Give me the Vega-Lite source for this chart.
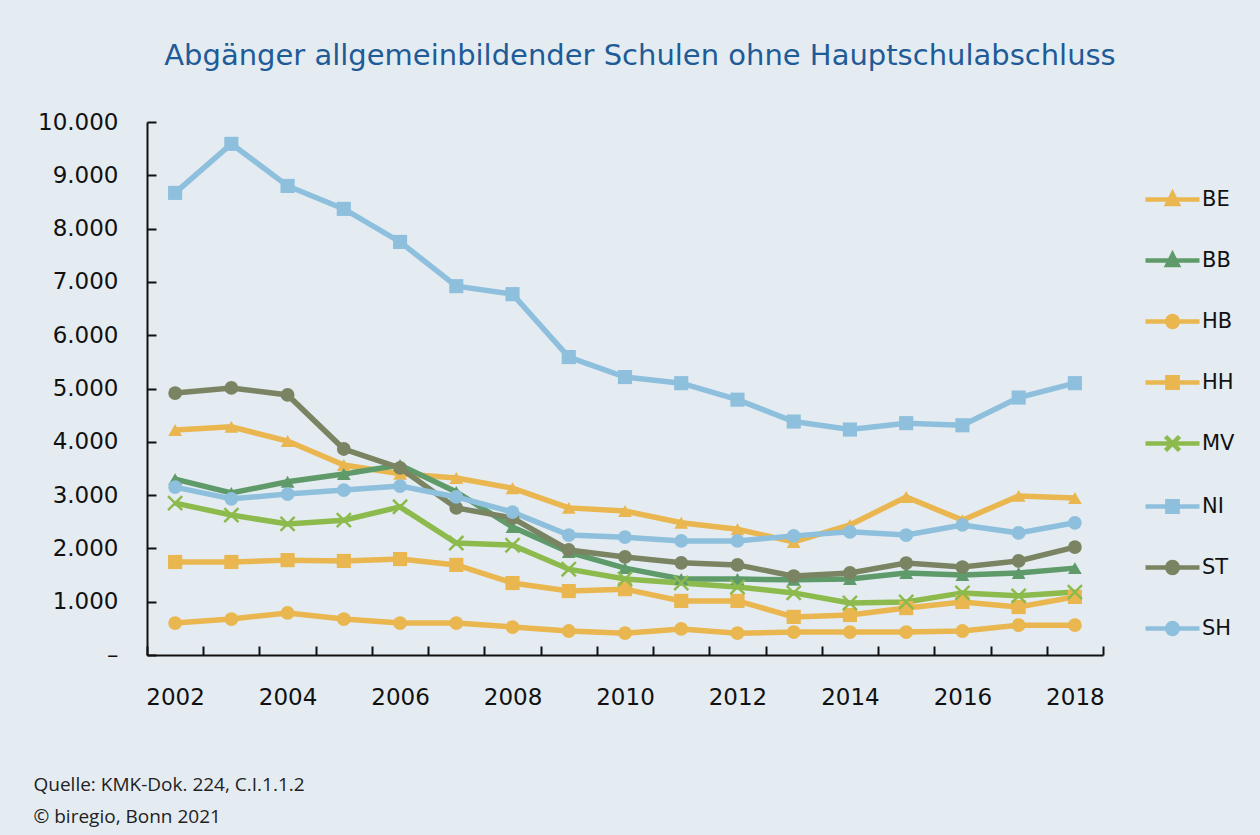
{
  "$schema": "https://vega.github.io/schema/vega-lite/v6.json",
  "autosize": {"type": "none"},
  "width": 956,
  "height": 533,
  "padding": {"left": 147, "top": 122, "right": 157, "bottom": 180},
  "background": "#e4ecf2",
  "config": {
    "view": {"stroke": null},
    "locale": {"number": {"decimal": ",", "thousands": ".", "grouping": [3], "currency": ["", " €"]}},
    "font": "DejaVu Sans"
  },
  "title": {
    "text": "Abgänger allgemeinbildender Schulen ohne Hauptschulabschluss",
    "font": "DejaVu Sans",
    "fontSize": 29,
    "fontWeight": "normal",
    "color": "#1f5b97",
    "anchor": "middle",
    "frame": "group",
    "dx": 15,
    "baseline": "alphabetic",
    "offset": 17
  },
  "data": {"values": [
    {"s":"BE","year":2002,"v":4220},{"s":"BE","year":2003,"v":4280},{"s":"BE","year":2004,"v":4015},{"s":"BE","year":2005,"v":3565},{"s":"BE","year":2006,"v":3400},{"s":"BE","year":2007,"v":3320},{"s":"BE","year":2008,"v":3130},{"s":"BE","year":2009,"v":2760},{"s":"BE","year":2010,"v":2700},{"s":"BE","year":2011,"v":2480},{"s":"BE","year":2012,"v":2360},{"s":"BE","year":2013,"v":2120},{"s":"BE","year":2014,"v":2440},{"s":"BE","year":2015,"v":2965},{"s":"BE","year":2016,"v":2530},{"s":"BE","year":2017,"v":2985},{"s":"BE","year":2018,"v":2945},
    {"s":"BB","year":2002,"v":3300},{"s":"BB","year":2003,"v":3040},{"s":"BB","year":2004,"v":3250},{"s":"BB","year":2005,"v":3395},{"s":"BB","year":2006,"v":3565},{"s":"BB","year":2007,"v":3060},{"s":"BB","year":2008,"v":2400},{"s":"BB","year":2009,"v":1930},{"s":"BB","year":2010,"v":1630},{"s":"BB","year":2011,"v":1425},{"s":"BB","year":2012,"v":1425},{"s":"BB","year":2013,"v":1410},{"s":"BB","year":2014,"v":1425},{"s":"BB","year":2015,"v":1540},{"s":"BB","year":2016,"v":1500},{"s":"BB","year":2017,"v":1540},{"s":"BB","year":2018,"v":1630},
    {"s":"HB","year":2002,"v":600},{"s":"HB","year":2003,"v":675},{"s":"HB","year":2004,"v":790},{"s":"HB","year":2005,"v":675},{"s":"HB","year":2006,"v":600},{"s":"HB","year":2007,"v":600},{"s":"HB","year":2008,"v":525},{"s":"HB","year":2009,"v":450},{"s":"HB","year":2010,"v":410},{"s":"HB","year":2011,"v":490},{"s":"HB","year":2012,"v":410},{"s":"HB","year":2013,"v":430},{"s":"HB","year":2014,"v":430},{"s":"HB","year":2015,"v":430},{"s":"HB","year":2016,"v":450},{"s":"HB","year":2017,"v":560},{"s":"HB","year":2018,"v":560},
    {"s":"HH","year":2002,"v":1745},{"s":"HH","year":2003,"v":1745},{"s":"HH","year":2004,"v":1780},{"s":"HH","year":2005,"v":1765},{"s":"HH","year":2006,"v":1800},{"s":"HH","year":2007,"v":1690},{"s":"HH","year":2008,"v":1350},{"s":"HH","year":2009,"v":1200},{"s":"HH","year":2010,"v":1235},{"s":"HH","year":2011,"v":1015},{"s":"HH","year":2012,"v":1015},{"s":"HH","year":2013,"v":715},{"s":"HH","year":2014,"v":750},{"s":"HH","year":2015,"v":880},{"s":"HH","year":2016,"v":995},{"s":"HH","year":2017,"v":900},{"s":"HH","year":2018,"v":1090},
    {"s":"MV","year":2002,"v":2850},{"s":"MV","year":2003,"v":2625},{"s":"MV","year":2004,"v":2460},{"s":"MV","year":2005,"v":2530},{"s":"MV","year":2006,"v":2780},{"s":"MV","year":2007,"v":2100},{"s":"MV","year":2008,"v":2060},{"s":"MV","year":2009,"v":1610},{"s":"MV","year":2010,"v":1425},{"s":"MV","year":2011,"v":1350},{"s":"MV","year":2012,"v":1275},{"s":"MV","year":2013,"v":1165},{"s":"MV","year":2014,"v":975},{"s":"MV","year":2015,"v":995},{"s":"MV","year":2016,"v":1165},{"s":"MV","year":2017,"v":1110},{"s":"MV","year":2018,"v":1180},
    {"s":"NI","year":2002,"v":8670},{"s":"NI","year":2003,"v":9590},{"s":"NI","year":2004,"v":8800},{"s":"NI","year":2005,"v":8370},{"s":"NI","year":2006,"v":7750},{"s":"NI","year":2007,"v":6920},{"s":"NI","year":2008,"v":6770},{"s":"NI","year":2009,"v":5590},{"s":"NI","year":2010,"v":5215},{"s":"NI","year":2011,"v":5100},{"s":"NI","year":2012,"v":4790},{"s":"NI","year":2013,"v":4380},{"s":"NI","year":2014,"v":4230},{"s":"NI","year":2015,"v":4350},{"s":"NI","year":2016,"v":4310},{"s":"NI","year":2017,"v":4830},{"s":"NI","year":2018,"v":5100},
    {"s":"ST","year":2002,"v":4915},{"s":"ST","year":2003,"v":5010},{"s":"ST","year":2004,"v":4880},{"s":"ST","year":2005,"v":3865},{"s":"ST","year":2006,"v":3510},{"s":"ST","year":2007,"v":2760},{"s":"ST","year":2008,"v":2570},{"s":"ST","year":2009,"v":1970},{"s":"ST","year":2010,"v":1840},{"s":"ST","year":2011,"v":1730},{"s":"ST","year":2012,"v":1690},{"s":"ST","year":2013,"v":1480},{"s":"ST","year":2014,"v":1540},{"s":"ST","year":2015,"v":1725},{"s":"ST","year":2016,"v":1650},{"s":"ST","year":2017,"v":1765},{"s":"ST","year":2018,"v":2025},
    {"s":"SH","year":2002,"v":3150},{"s":"SH","year":2003,"v":2930},{"s":"SH","year":2004,"v":3020},{"s":"SH","year":2005,"v":3095},{"s":"SH","year":2006,"v":3170},{"s":"SH","year":2007,"v":2965},{"s":"SH","year":2008,"v":2680},{"s":"SH","year":2009,"v":2250},{"s":"SH","year":2010,"v":2210},{"s":"SH","year":2011,"v":2140},{"s":"SH","year":2012,"v":2140},{"s":"SH","year":2013,"v":2235},{"s":"SH","year":2014,"v":2310},{"s":"SH","year":2015,"v":2250},{"s":"SH","year":2016,"v":2440},{"s":"SH","year":2017,"v":2290},{"s":"SH","year":2018,"v":2480}
  ]},
  "encoding": {
    "x": {
      "field": "year", "type": "ordinal",
      "scale": {"paddingInner": 0, "paddingOuter": 0},
      "axis": {
        "title": ["Quelle: KMK-Dok. 224, C.I.1.1.2", "© biregio, Bonn 2021"],
        "titleFont": "Open Sans", "titleFontSize": 19, "titleFontWeight": "normal", "titleColor": "#222",
        "titleAnchor": "start", "titleAlign": "left", "titleBaseline": "alphabetic",
        "titleX": -114, "titleY": 135, "titleLineHeight": 32,
        "labelAngle": 0, "labelFontSize": 23, "labelColor": "#111", "labelFont": "DejaVu Sans",
        "labelExpr": "datum.value % 2 == 0 ? datum.label : ''",
        "tickBand": "extent", "tickSize": -9, "tickWidth": 2, "tickColor": "#111",
        "domainColor": "#111", "domainWidth": 2, "labelPadding": 40, "grid": false
      }
    },
    "y": {
      "field": "v", "type": "quantitative",
      "scale": {"domain": [0, 10000], "nice": false},
      "axis": {
        "title": null, "values": [0,1000,2000,3000,4000,5000,6000,7000,8000,9000,10000],
        "format": ",.0f",
        "labelExpr": "datum.value == 0 ? '–' : datum.label",
        "labelFontSize": 23, "labelColor": "#111", "labelFont": "DejaVu Sans",
        "tickSize": -9, "tickWidth": 2, "tickColor": "#111",
        "domainColor": "#111", "domainWidth": 2, "labelPadding": 38, "grid": false
      }
    },
    "color": {
      "field": "s", "type": "nominal",
      "scale": {"domain": ["BE","BB","HB","HH","MV","NI","ST","SH"], "range": ["#e9b64f","#5f9a6b","#e9b64f","#e9b64f","#8dba4d","#8ec0dd","#7a8463","#8ec0dd"]},
      "legend": {
        "orient": "none", "legendX": 996, "legendY": 48, "title": null,
        "symbolSize": 2916, "symbolStrokeWidth": 4.5, "symbolOpacity": 1, "rowPadding": 17,
        "labelFontSize": 21, "labelFont": "DejaVu Sans", "labelColor": "#111", "labelOffset": 0
      }
    }
  },
  "layer": [
    {
      "mark": {"type": "line", "strokeWidth": 5.5},
      "encoding": {"order": {"field": "year"}}
    },
    {
      "transform": [{"filter": {"field": "s", "oneOf": ["BE", "BB"]}}],
      "mark": {"type": "point", "shape": "triangle-up", "filled": true, "opacity": 1, "size": 190}
    },
    {
      "transform": [{"filter": {"field": "s", "oneOf": ["HB", "ST", "SH"]}}],
      "mark": {"type": "point", "shape": "circle", "filled": true, "opacity": 1, "size": 190}
    },
    {
      "transform": [{"filter": {"field": "s", "oneOf": ["HH", "NI"]}}],
      "mark": {"type": "point", "shape": "square", "filled": true, "opacity": 1, "size": 200}
    },
    {
      "transform": [{"filter": {"field": "s", "oneOf": ["MV"]}}],
      "mark": {"type": "point", "shape": "M-1,-1L1,1M-1,1L1,-1", "filled": false, "opacity": 1, "size": 200, "strokeWidth": 2.5}
    },
    {
      "mark": {"type": "point", "filled": true, "opacity": 0},
      "encoding": {
        "stroke": {
          "field": "s", "type": "nominal",
          "scale": {"domain": ["BE","BB","HB","HH","MV","NI","ST","SH"], "range": ["#e9b64f","#5f9a6b","#e9b64f","#e9b64f","#8dba4d","#8ec0dd","#7a8463","#8ec0dd"]}
        },
        "shape": {
          "field": "s", "type": "nominal",
          "scale": {"domain": ["BE","BB","HB","HH","MV","NI","ST","SH"], "range": [
            "M-1,0H1M-0.19,0.17L0,-0.21L0.19,0.17Z",
            "M-1,0H1M-0.19,0.17L0,-0.21L0.19,0.17Z",
            "M-1,0H1M-0.2,0A0.2,0.2 0 1,0 0.2,0A0.2,0.2 0 1,0 -0.2,0Z",
            "M-1,0H1M-0.19,-0.19H0.19V0.19H-0.19Z",
            "M-1,0H1M-0.26,-0.26L0.26,0.26M-0.26,0.26L0.26,-0.26",
            "M-1,0H1M-0.19,-0.19H0.19V0.19H-0.19Z",
            "M-1,0H1M-0.2,0A0.2,0.2 0 1,0 0.2,0A0.2,0.2 0 1,0 -0.2,0Z",
            "M-1,0H1M-0.2,0A0.2,0.2 0 1,0 0.2,0A0.2,0.2 0 1,0 -0.2,0Z"
          ]}
        }
      }
    }
  ]
}
